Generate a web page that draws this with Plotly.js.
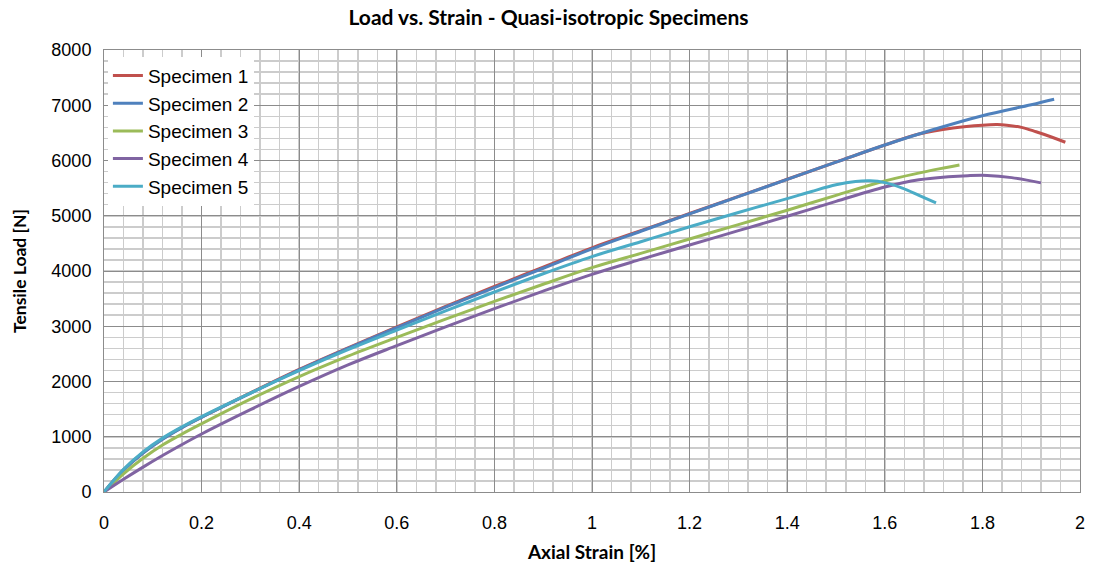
<!DOCTYPE html>
<html>
<head>
<meta charset="utf-8">
<script src="https://cdn.plot.ly/plotly-3.0.1.min.js"></script>
<style>html,body{margin:0;padding:0;background:#fff;}#chart{width:1097px;height:567px;}</style>
</head>
<body>
<div id="chart"></div>
<script>
var seriesNames = ["Specimen 1", "Specimen 2", "Specimen 3", "Specimen 4", "Specimen 5"];

var strain1 = [0, 0.04, 0.08, 0.12, 0.16, 0.2, 0.3, 0.4, 0.5, 0.6, 0.7, 0.8, 0.9, 1.0, 1.1, 1.2, 1.3, 1.4, 1.5, 1.6, 1.67, 1.74, 1.8, 1.83, 1.85, 1.88, 1.91, 1.94, 1.97];
var load1   = [0, 400, 710, 960, 1170, 1355, 1795, 2220, 2610, 2990, 3360, 3720, 4070, 4420, 4730, 5040, 5350, 5660, 5970, 6280, 6480, 6590, 6640, 6650, 6640, 6600, 6520, 6430, 6330];

var strain2 = [0, 0.04, 0.08, 0.12, 0.16, 0.2, 0.3, 0.4, 0.5, 0.6, 0.7, 0.8, 0.9, 1.0, 1.1, 1.2, 1.3, 1.4, 1.5, 1.6, 1.7, 1.8, 1.9, 1.947];
var load2   = [0, 395, 705, 955, 1165, 1350, 1785, 2210, 2600, 2975, 3345, 3700, 4050, 4400, 4720, 5035, 5345, 5660, 5970, 6280, 6560, 6810, 7010, 7110];

var strain3 = [0, 0.04, 0.08, 0.12, 0.16, 0.2, 0.3, 0.4, 0.5, 0.6, 0.7, 0.8, 0.9, 1.0, 1.1, 1.2, 1.3, 1.4, 1.5, 1.6, 1.7, 1.753];
var load3   = [0, 330, 610, 850, 1050, 1235, 1680, 2090, 2460, 2800, 3130, 3450, 3760, 4060, 4320, 4580, 4840, 5100, 5370, 5630, 5830, 5920];

var strain4 = [0, 0.04, 0.08, 0.12, 0.16, 0.2, 0.3, 0.4, 0.5, 0.6, 0.7, 0.8, 0.9, 1.0, 1.1, 1.2, 1.3, 1.4, 1.5, 1.6, 1.67, 1.73, 1.77, 1.81, 1.86, 1.92];
var load4   = [0, 230, 450, 660, 860, 1050, 1490, 1910, 2300, 2650, 2990, 3320, 3635, 3940, 4210, 4470, 4730, 4990, 5260, 5520, 5650, 5705, 5725, 5730, 5690, 5595];

var strain5 = [0, 0.04, 0.08, 0.12, 0.16, 0.2, 0.3, 0.4, 0.5, 0.6, 0.7, 0.8, 0.9, 1.0, 1.1, 1.2, 1.3, 1.4, 1.45, 1.5, 1.54, 1.57, 1.6, 1.636, 1.67, 1.705];
var load5   = [0, 410, 725, 975, 1180, 1365, 1790, 2195, 2575, 2930, 3280, 3620, 3950, 4260, 4530, 4800, 5060, 5310, 5440, 5560, 5620, 5632, 5600, 5500, 5370, 5233];

var xTickVals = [0, 0.2, 0.4, 0.6, 0.8, 1, 1.2, 1.4, 1.6, 1.8, 2];
var xTickText = ["0", "0.2", "0.4", "0.6", "0.8", "1", "1.2", "1.4", "1.6", "1.8", "2"];
var yTickVals = [0, 1000, 2000, 3000, 4000, 5000, 6000, 7000, 8000];
var yTickText = ["0", "1000", "2000", "3000", "4000", "5000", "6000", "7000", "8000"];

var colors = ["#C0504D", "#4F81BD", "#9BBB59", "#8064A2", "#4BACC6"];
var xs = [strain1, strain2, strain3, strain4, strain5];
var ys = [load1, load2, load3, load4, load5];

var traces = [];
for (var i = 0; i < 5; i++) {
  traces.push({
    x: xs[i], y: ys[i], name: seriesNames[i], type: "scatter", mode: "lines",
    line: {color: colors[i], width: 3, shape: "spline", smoothing: 1}
  });
}

var layout = {
  width: 1097, height: 567,
  margin: {l: 104, r: 17, t: 50, b: 75},
  paper_bgcolor: "#fff", plot_bgcolor: "#fff",
  title: {text: "Load vs. Strain - Quasi-isotropic Specimens", font: {family: "Lato", size: 21, color: "#000", weight: "bold"}, x: 0.5, xanchor: "center", y: 0.968, yanchor: "middle"},
  font: {family: "Liberation Sans, Arial", color: "#000"},
  xaxis: {
    range: [0, 2], tickvals: xTickVals, ticktext: xTickText, tickfont: {size: 18, family: "Liberation Sans"},
    showgrid: true, gridcolor: "#8c8c8c", gridwidth: 1,
    minor: {dtick: 0.04, showgrid: true, gridcolor: "#cccccc", gridwidth: 1.5},
    showline: true, linecolor: "#8c8c8c", linewidth: 1, mirror: true, zeroline: false,
    ticks: "", ticklabelstandoff: 14,
    title: {text: "Axial Strain [%]", font: {family: "Lato", size: 19, weight: "bold"}, standoff: 14}
  },
  yaxis: {
    range: [0, 8000], tickvals: yTickVals, ticktext: yTickText, tickfont: {size: 18, family: "Liberation Sans"},
    showgrid: true, gridcolor: "#8c8c8c", gridwidth: 1,
    minor: {dtick: 200, showgrid: true, gridcolor: "#cccccc", gridwidth: 1.5},
    showline: true, linecolor: "#8c8c8c", linewidth: 1, mirror: true, zeroline: false,
    ticks: "", ticklabelstandoff: 8,
    title: {text: "Tensile Load [N]", font: {family: "Lato", size: 17.5, weight: "bold"}, standoff: 20}
  },
  legend: {x: 0.004, y: 0.985, xanchor: "left", yanchor: "top", bgcolor: "#fff", borderwidth: 0,
    font: {size: 19, family: "Liberation Sans"}, itemwidth: 30, tracegroupgap: 0},
  showlegend: true
};

Plotly.newPlot("chart", traces, layout, {displayModeBar: false, staticPlot: true});
</script>
</body>
</html>
